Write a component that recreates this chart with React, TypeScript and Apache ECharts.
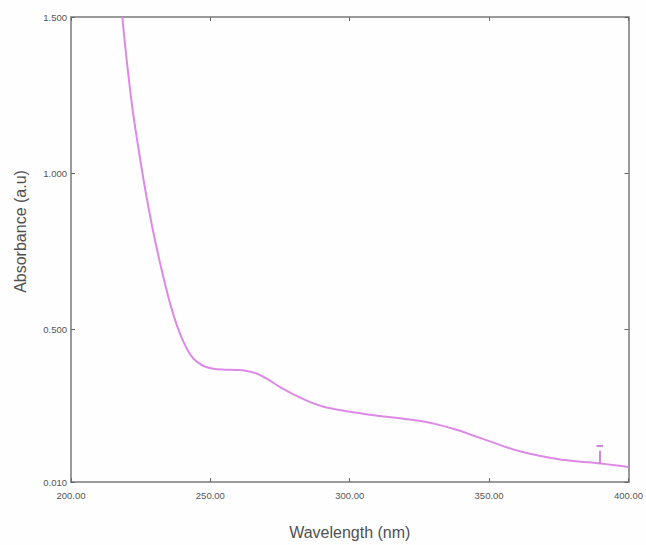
import React, { useEffect, useRef } from "react";
import * as echarts from "echarts";

// Wavelength (nm) and absorbance (a.u.)
const wavelengths = [
  218.4, 220, 222, 224, 226, 228, 230, 232, 234, 236,
  238, 240, 242, 244, 246, 248, 251, 255, 259, 263,
  267, 271, 275, 280, 285, 290, 298, 310, 318, 325,
  332, 338, 344, 350, 356, 362, 368, 375, 382, 390,
  400,
];
const absorbance = [
  1.5, 1.36, 1.21, 1.09, 0.98, 0.88, 0.79, 0.71, 0.635, 0.568,
  0.512, 0.466, 0.43, 0.405, 0.39, 0.38, 0.373, 0.37, 0.369, 0.366,
  0.356, 0.337, 0.314, 0.29, 0.269, 0.253, 0.238, 0.222, 0.214, 0.206,
  0.193, 0.178, 0.16, 0.141, 0.122, 0.106, 0.094, 0.083, 0.076, 0.069,
  0.058,
];
const yTickValues = [0.01, 0.5, 1.0, 1.5];
const xMin = 200;
const xMax = 400;
const xStep = 50;
const markerWavelength = 389.7;

export default function App() {
  const ref = useRef<HTMLDivElement>(null);
  useEffect(() => {
    if (!ref.current) return;
    const chart = echarts.init(ref.current, undefined, { renderer: "svg" });
    const data = wavelengths.map((w, i) => [w, absorbance[i]]);
    const axisLine = { show: true, lineStyle: { color: "#9a9a9a", width: 2 } };
    const tick = { show: true, inside: true, length: 4, lineStyle: { color: "#666", width: 1 } };
    const labelStyle = { color: "#555", fontSize: 9.5, fontFamily: "Liberation Sans, Arial, sans-serif" };
    chart.setOption({
      animation: false,
      backgroundColor: "#fefefe",
      grid: { left: 71, right: 14, top: 17, bottom: 58, containLabel: false },
      xAxis: [
        {
          type: "value",
          min: xMin,
          max: xMax,
          interval: xStep,
          axisLine,
          axisTick: tick,
          splitLine: { show: false },
          axisLabel: { ...labelStyle, margin: 8, formatter: (v: number) => v.toFixed(2) },
          name: "Wavelength (nm)",
          nameLocation: "middle",
          nameGap: 42,
          nameTextStyle: { color: "#505050", fontSize: 16, fontFamily: "Liberation Sans, Arial, sans-serif" },
        },
        {
          type: "value",
          position: "top",
          min: xMin,
          max: xMax,
          interval: xStep,
          axisLine,
          axisTick: tick,
          axisLabel: { show: false },
          splitLine: { show: false },
        },
      ],
      yAxis: [
        {
          type: "value",
          min: yTickValues[0],
          max: yTickValues[yTickValues.length - 1],
          axisLine,
          axisTick: { ...tick, customValues: yTickValues },
          splitLine: { show: false },
          axisLabel: {
            ...labelStyle,
            margin: 4,
            customValues: yTickValues,
            formatter: (v: number) => v.toFixed(3),
          },
          name: "Absorbance (a.u)",
          nameLocation: "middle",
          nameGap: 43,
          nameTextStyle: {
            color: "#505050",
            fontSize: 16,
            fontFamily: "Liberation Sans, Arial, sans-serif",
            padding: [0, 0, 0, 36],
          },
        },
        {
          type: "value",
          position: "right",
          min: yTickValues[0],
          max: yTickValues[yTickValues.length - 1],
          axisLine,
          axisTick: { ...tick, customValues: yTickValues },
          axisLabel: { show: false },
          splitLine: { show: false },
        },
      ],
      series: [
        {
          type: "line",
          data,
          smooth: 0.35,
          showSymbol: false,
          clip: true,
          lineStyle: { color: "#dc8ae6", width: 2 },
          markLine: {
            silent: true,
            symbol: ["none", "none"],
            label: { show: false },
            lineStyle: { color: "#c060c8", width: 1.5, type: "solid" },
            data: [
              [{ coord: [markerWavelength, 0.07] }, { coord: [markerWavelength, 0.11] }],
              [{ coord: [markerWavelength - 1.2, 0.127] }, { coord: [markerWavelength + 1.2, 0.127] }],
            ],
          },
        },
      ],
    });
    return () => chart.dispose();
  }, []);
  return (
    <div
      ref={ref}
      style={{ position: "fixed", left: 0, top: 0, width: 646, height: 545 }}
    />
  );
}
